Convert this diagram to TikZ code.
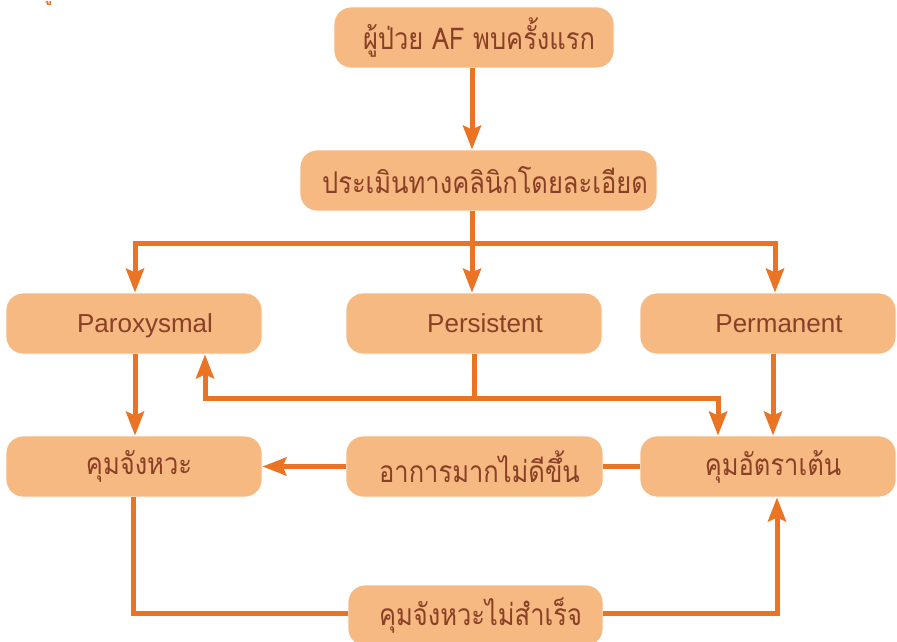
\documentclass[tikz,border=0pt]{standalone}
\usepackage{fontspec}
\setmainfont{Liberation Sans}
\newfontfamily\thai[Script=Thai,FakeStretch=0.85]{Loma}
\usetikzlibrary{arrows.meta}
\definecolor{boxfill}{HTML}{F6B982}
\definecolor{lineor}{HTML}{EA7424}
\definecolor{txtbr}{HTML}{8A3F26}
\begin{document}
\begin{tikzpicture}[x=1pt,y=-1pt,
  box/.style={rectangle,rounded corners=17pt,fill=boxfill,draw=white,line width=0.8pt,
    minimum height=61pt,minimum width=256pt,inner sep=0pt,text=txtbr,font=\fontsize{30}{34}\selectfont\thai,
    execute at begin node={\hspace*{10pt}}},
  nudge/.style={execute at begin node={\hspace*{3pt}}},
  lat/.style={font=\fontsize{26}{30}\selectfont,text height=17pt,text depth=0pt,execute at begin node={\hspace*{12pt}}},
  conn/.style={draw=lineor,line width=5pt},
  arr/.style={conn,-{Stealth[length=24pt,width=18pt,inset=4pt]}}]
\useasboundingbox (0,0) rectangle (897,642);
\node[anchor=base,text=lineor,font=\fontsize{20}{24}\selectfont\thai\bfseries] (frag) at (47,1) {ภู};
\node[box,minimum width=280pt] (n1) at (474,37.5) {ผู้ป่วย AF พบครั้งแรก};
\node[box,nudge,minimum width=357pt] (n2) at (478.5,180.5) {ประเมินทางคลินิกโดยละเอียด};
\node[box,lat] (p1) at (134,323.5) {Paroxysmal};
\node[box,lat] (p2) at (474,323.5) {Persistent};
\node[box,lat] (p3) at (768,323.5) {Permanent};
\node[box] (r1) at (134,466.5) {คุมจังหวะ};
\node[box,minimum width=257pt] (r2) at (474.5,466.5) {อาการมากไม่ดีขึ้น};
\node[box] (r3) at (768,466.5) {คุมอัตราเต้น};
\node[box,minimum width=255pt] (b) at (475.5,615.5) {คุมจังหวะไม่สำเร็จ};
\coordinate (j1) at (472,243);
\coordinate (j2) at (474,398);
\coordinate (p1n) at ([xshift=1pt]p1.north);
\coordinate (p3n) at ([xshift=7pt]p3.north);
\coordinate (p1s) at ([xshift=71pt]p1.south);
\coordinate (r3n) at ([xshift=-50pt]r3.north);
\coordinate (r3s) at ([xshift=9pt]r3.south);
% top
\draw[arr] ([xshift=-2pt]n1.south) -- ([xshift=-2pt]n1.south |- n2.north);
\draw[conn] (n2.south -| j1) -- (j1);
\draw[conn] ([xshift=-2.5pt]j1 -| p1n) -- ([xshift=2.5pt]j1 -| p3n);
\draw[arr] (j1 -| p1n) -- (p1n);
\draw[arr] (j1) -- (j1 |- p2.north);
\draw[arr] (j1 -| p3n) -- (p3n);
% middle
\draw[arr] ([xshift=1pt]p1.south) -- ([xshift=1pt]r1.north);
\draw[conn] (p2.south) -- (j2);
\draw[arr] (j2) -| (p1s);
\draw[arr] (j2) -| (r3n);
\draw[arr] ([xshift=5pt]p3.south) -- ([xshift=5pt]r3.north);
% bottom row
\draw[conn] (r3.west) -- (r2.east);
\draw[arr] (r2.west) -- (r1.east);
\draw[conn] ([xshift=-1pt]r1.south) |- ([yshift=2.5pt]b.west);
\draw[arr] ([yshift=2.5pt]b.east) -| (r3s);
\end{tikzpicture}
\end{document}
